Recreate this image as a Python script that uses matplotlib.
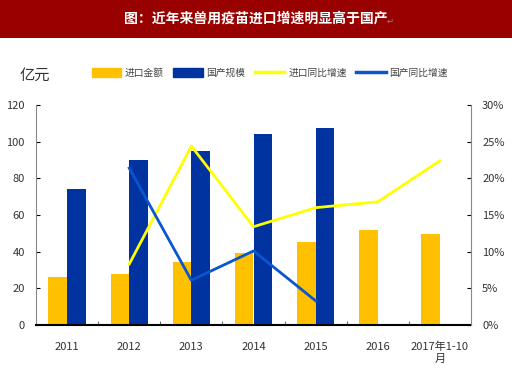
import numpy as np
import matplotlib.pyplot as plt
from matplotlib.patches import Rectangle, Patch
from matplotlib.lines import Line2D

plt.rcParams['font.family'] = ['Noto Sans CJK SC', 'DejaVu Sans']

# data
years = ['2011', '2012', '2013', '2014', '2015', '2016', '2017年1-10\n月']
import_amt = [26, 27.8, 34.5, 39.3, 45.3, 52, 49.8]          # 进口金额 (亿元)
domestic = [74, 90, 95, 104, 107.6, np.nan, np.nan]        # 国产规模 (亿元)
import_growth = [np.nan, 8.3, 24.4, 13.4, 16.0, 16.8, 22.4]  # 进口同比增速 (%)
domestic_growth = [np.nan, 21.4, 6.1, 10.1, 3.3, np.nan, np.nan]  # 国产同比增速 (%)

orange = '#FFC000'
navy = '#0033A0'
yellow = '#FFFF00'
blue = '#0A55D0'

fig = plt.figure(figsize=(5.12, 3.86), dpi=100)

# title bar
fig.patches.append(Rectangle((0, 1 - 38 / 386), 1, 38 / 386, transform=fig.transFigure,
                             facecolor='#990000', edgecolor='none', zorder=0))
fig.add_artist(Line2D([0, 1], [1 - 38.5 / 386] * 2, transform=fig.transFigure,
                      color='white', lw=0.8, ls=(0, (1, 1))))
fig.text(0.5, 1 - 19 / 386, '图：近年来兽用疫苗进口增速明显高于国产', color='white',
         fontsize=10, fontweight='bold', ha='center', va='center')
fig.text(0.755, 1 - 21 / 386, '↵', color='#888888', fontsize=6, ha='left', va='center',
         family=['DejaVu Sans'])

ax = fig.add_axes([36 / 512, 1 - 325 / 386, (471 - 36) / 512, 220 / 386])
x = np.arange(len(years))
w = 0.3
ax.bar(x - w / 2, import_amt, width=w, color=orange, zorder=2)
ax.bar(x + w / 2, domestic, width=w, color=navy, zorder=2)
ax.set_xlim(-0.5, len(years) - 0.5)
ax.set_ylim(0, 120)
ax.set_yticks(range(0, 121, 20))
ax.set_xticks(x)
ax.set_xticklabels(years, fontsize=8, color='#333333')
ax.set_xticks(np.arange(-0.5, len(years), 1), minor=True)
ax.tick_params(axis='x', which='major', length=0, pad=12)
ax.tick_params(axis='x', which='minor', direction='in', length=3, color='#444444')
ax.tick_params(axis='y', direction='in', length=3, labelsize=8, pad=8, labelcolor='#333333')
ax.spines['top'].set_visible(False)
ax.spines['right'].set_visible(False)
ax.spines['left'].set_color('#888888')
ax.spines['bottom'].set_linewidth(1.5)

ax2 = ax.twinx()
ax2.plot(x, import_growth, color=yellow, lw=2, zorder=3)
ax2.plot(x, domestic_growth, color=blue, lw=2, zorder=3)
ax2.set_ylim(0, 30)
ax2.set_yticks(range(0, 31, 5))
ax2.set_yticklabels([f'{v}%' for v in range(0, 31, 5)])
ax2.tick_params(axis='y', direction='in', length=3, labelsize=8, pad=8, labelcolor='#333333')
for s in ['top', 'left', 'bottom']:
    ax2.spines[s].set_visible(False)
ax2.spines['right'].set_color('#888888')

fig.text(20 / 512, 1 - 75 / 386, '亿元', fontsize=11, ha='left', va='center', color='#333333')

handles = [Patch(color=orange), Patch(color=navy),
           Line2D([], [], color=yellow, lw=2.5), Line2D([], [], color=blue, lw=2.5)]
labels = ['进口金额', '国产规模', '进口同比增速', '国产同比增速']
fig.legend(handles, labels, ncol=4, loc='center', bbox_to_anchor=(0.527, 1 - 73 / 386),
           frameon=False, fontsize=7, handlelength=3, handleheight=1.0,
           columnspacing=1.0, handletextpad=0.4, labelcolor='#444444')

fig.savefig('out.png', dpi=100)
